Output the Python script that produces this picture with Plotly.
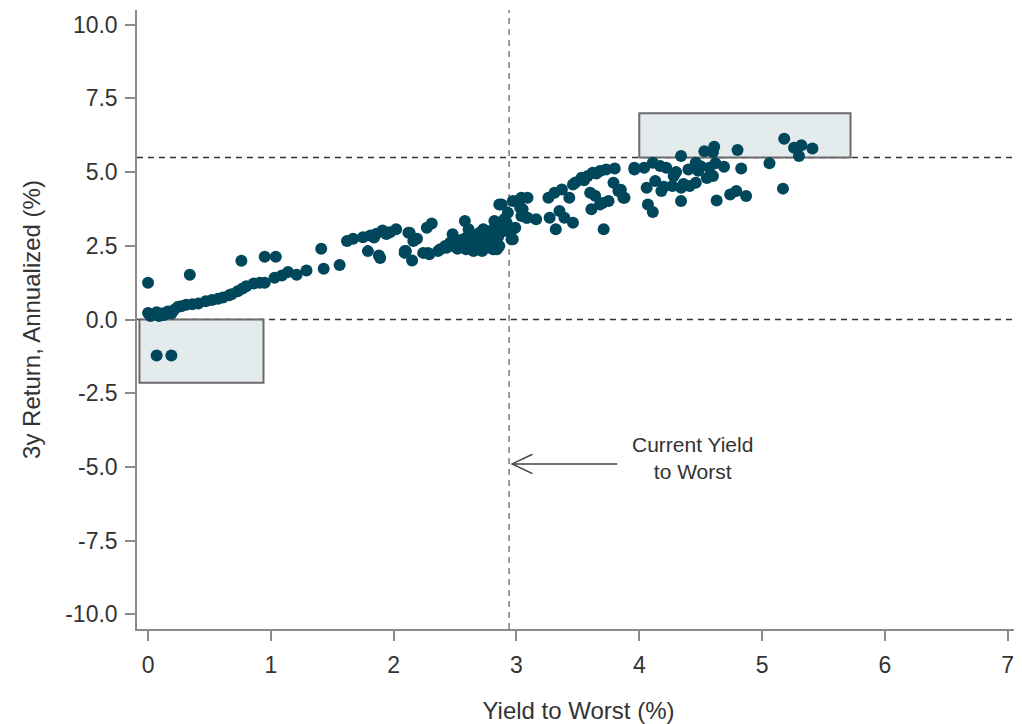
import plotly.graph_objects as go

# Data: (Yield to Worst %, 3y annualized return %)
ytw = [
    0.00, 0.34, 0.76, 0.95, 1.04,
    0.00, 0.02, 0.04, 0.07, 0.09, 0.11, 0.13, 0.16, 0.19, 0.21, 0.24, 0.27, 0.31, 0.36, 0.41,
    0.47, 0.52, 0.57, 0.61, 0.66, 0.68, 0.73, 0.77, 0.80, 0.86, 0.91, 0.95,
    0.07, 0.19,
    1.03, 1.09, 1.14, 1.21, 1.29, 1.43, 1.56, 1.41,
    1.62, 1.67, 1.75, 1.81, 1.86, 1.91, 1.97, 2.02, 1.79, 1.88, 1.89, 1.84, 1.94,
    2.09, 2.12, 2.19, 2.09, 2.15, 2.27, 2.31, 2.28, 2.24, 2.29, 2.36, 2.38, 2.42, 2.43, 2.48,
    2.46, 2.51, 2.48, 2.54, 2.58, 2.61, 2.59, 2.59, 2.59, 2.65, 2.66, 2.67, 2.70, 2.70, 2.73,
    2.72, 2.76, 2.78, 2.80, 2.81, 2.82, 2.84, 2.86, 2.75, 2.81, 2.86, 2.92, 2.88, 2.93, 2.97,
    2.99, 2.97, 3.03, 3.04, 2.86, 2.97, 2.16, 2.13, 2.10, 2.55, 2.63, 2.68, 2.75, 2.52, 2.57,
    2.62, 2.77, 2.85, 2.90,
    2.90, 2.96, 3.01, 3.03, 3.09, 3.05, 3.04, 3.09, 3.16, 3.08, 3.26, 3.31, 3.37, 3.43, 3.27,
    3.35, 3.39, 3.32, 3.46, 3.46, 3.53, 3.58, 3.62, 3.68, 3.73, 3.80, 3.60, 3.79, 3.83, 3.88,
    3.75, 3.68, 3.61, 3.71, 3.96, 3.48, 3.55, 3.65, 3.70, 3.64, 3.85,
    4.34, 4.53, 4.61, 4.60, 4.80, 5.18, 5.26, 5.32, 5.30, 5.41, 5.06, 5.17, 4.83, 4.69, 4.60,
    4.57, 4.46, 4.40, 4.46, 4.41, 4.34, 4.27, 4.28, 4.22, 4.17, 4.11, 4.04, 3.96, 4.06, 4.13,
    4.18, 4.34, 4.07, 4.11, 4.63, 4.74, 4.79, 4.87, 3.87, 4.50, 4.36, 4.62, 4.20, 4.55, 4.48,
    4.30,
]
ret_3y = [
    1.25, 1.52, 1.99, 2.13, 2.13,
    0.22, 0.12, 0.18, 0.25, 0.12, 0.20, 0.15, 0.27, 0.20, 0.32, 0.42, 0.45, 0.50, 0.52, 0.54,
    0.62, 0.66, 0.70, 0.75, 0.82, 0.86, 0.96, 1.05, 1.13, 1.22, 1.25, 1.25,
    -1.22, -1.22,
    1.42, 1.49, 1.61, 1.52, 1.66, 1.72, 1.85, 2.40,
    2.66, 2.74, 2.79, 2.85, 2.91, 3.02, 2.96, 3.06, 2.32, 2.17, 2.09, 2.78, 2.90,
    2.26, 2.94, 2.74, 2.32, 2.00, 3.11, 3.26, 2.26, 2.26, 2.21, 2.32, 2.38, 2.49, 2.43, 2.89,
    2.60, 2.55, 2.49, 2.49, 3.34, 3.06, 2.77, 2.43, 2.38, 2.32, 2.83, 2.49, 2.38, 2.94, 3.06,
    2.32, 2.43, 2.89, 2.60, 2.38, 3.34, 2.38, 2.49, 3.00, 3.06, 3.11, 3.28, 3.90, 3.62, 2.72,
    3.11, 3.06, 3.79, 4.13, 3.90, 4.02, 2.66, 2.94, 2.32, 2.70, 2.60, 2.65, 2.70, 2.40, 2.55,
    2.50, 2.55, 2.80, 3.00,
    3.40, 2.72, 4.02, 4.07, 4.13, 3.74, 3.51, 3.45, 3.40, 3.45, 4.13, 4.30, 4.41, 4.13, 3.45,
    3.68, 3.45, 3.06, 3.28, 4.58, 4.81, 4.87, 4.98, 5.04, 5.09, 5.12, 4.30, 4.64, 4.36, 4.13,
    4.02, 3.90, 3.74, 3.06, 5.15, 4.65, 4.72, 4.95, 3.95, 4.20, 4.40,
    5.55, 5.71, 5.86, 5.68, 5.75, 6.13, 5.83, 5.91, 5.55, 5.80, 5.30, 4.44, 5.12, 5.18, 4.87,
    5.15, 5.32, 5.09, 4.64, 4.53, 4.47, 4.53, 4.87, 5.15, 5.21, 5.32, 5.15, 5.09, 4.47, 4.70,
    4.36, 4.02, 3.90, 3.65, 4.04, 4.24, 4.36, 4.19, 4.13, 5.20, 4.60, 5.30, 4.50, 4.80, 5.05,
    5.00,
]

current_ytw = 2.94
ref_return_lines = [0.0, 5.5]
x_ticks = [0, 1, 2, 3, 4, 5, 6, 7]
y_ticks = [10.0, 7.5, 5.0, 2.5, 0.0, -2.5, -5.0, -7.5, -10.0]
y_tick_text = ["10.0", "7.5", "5.0", "2.5", "0.0", "-2.5", "-5.0", "-7.5", "-10.0"]

# highlight boxes (x0, x1, y0, y1)
box_low = (-0.07, 0.94, -2.15, 0.0)
box_high = (4.0, 5.72, 5.5, 7.0)

FONT = "Liberation Sans, Arial, sans-serif"
TEXT = "#333333"
DOT = "#00475C"

fig = go.Figure()

fig.add_trace(go.Scatter(
    x=ytw, y=ret_3y, mode="markers",
    marker=dict(color=DOT, size=12, line=dict(width=0)),
    hoverinfo="x+y", showlegend=False,
))

for (x0, x1, y0, y1) in (box_low, box_high):
    fig.add_shape(type="rect", xref="x", yref="y", x0=x0, x1=x1, y0=y0, y1=y1,
                  fillcolor="#E3EBED", line=dict(color="#6B6B6B", width=2), layer="below")

for yv in ref_return_lines:
    fig.add_shape(type="line", xref="paper", yref="y", x0=0, x1=1, y0=yv, y1=yv,
                  line=dict(color="#333333", width=1.5, dash="6px,5px"), layer="below")

fig.add_shape(type="line", xref="x", yref="paper", x0=current_ytw, x1=current_ytw, y0=0, y1=1,
              line=dict(color="#7A7A7A", width=1.5, dash="6px,5px"), layer="below")

# arrow
arrow_y = -4.9
fig.add_shape(type="line", xref="x", yref="y", x0=3.82, x1=current_ytw + 0.025, y0=arrow_y, y1=arrow_y,
              line=dict(color="#444444", width=1.5))
fig.add_shape(type="path", xref="x", yref="y",
              path=f"M 3.13,{arrow_y + 0.33} L {current_ytw + 0.025},{arrow_y} L 3.13,{arrow_y - 0.33}",
              line=dict(color="#444444", width=1.5))

fig.add_annotation(x=4.43, y=-4.7, xref="x", yref="y", text="Current Yield<br>to Worst",
                   showarrow=False, font=dict(family=FONT, size=21, color=TEXT), align="center")

# the page body adds an 8px offset, so the figure is 8px smaller on each axis
fig.update_layout(
    width=1014, height=716,
    margin=dict(l=129, r=2, t=2, b=95),
    paper_bgcolor="white", plot_bgcolor="white",
    font=dict(family=FONT, color=TEXT, size=22),
    showlegend=False,
)

fig.update_xaxes(
    range=[-0.09, 7.1], tickvals=x_ticks, ticktext=[str(v) for v in x_ticks],
    automargin=False,
    showgrid=False, zeroline=False, showline=True, linecolor="#8A8A8A", linewidth=1.5,
    ticks="outside", ticklen=10, tickcolor="#8A8A8A", tickwidth=1.5,
    tickfont=dict(family=FONT, size=23, color=TEXT), ticklabelstandoff=5,
    title=dict(text="Yield to Worst (%)", font=dict(family=FONT, size=24, color=TEXT), standoff=27),
)
fig.update_yaxes(
    range=[-10.5, 10.5], tickvals=y_ticks, ticktext=y_tick_text,
    automargin=False,
    showgrid=False, zeroline=False, showline=True, linecolor="#8A8A8A", linewidth=1.5,
    ticks="outside", ticklen=10, tickcolor="#8A8A8A", tickwidth=1.5,
    tickfont=dict(family=FONT, size=23, color=TEXT), ticklabelstandoff=3,
    title=dict(text="3y Return, Annualized (%)", font=dict(family=FONT, size=24, color=TEXT), standoff=18),
)

fig.write_html("out.html")
